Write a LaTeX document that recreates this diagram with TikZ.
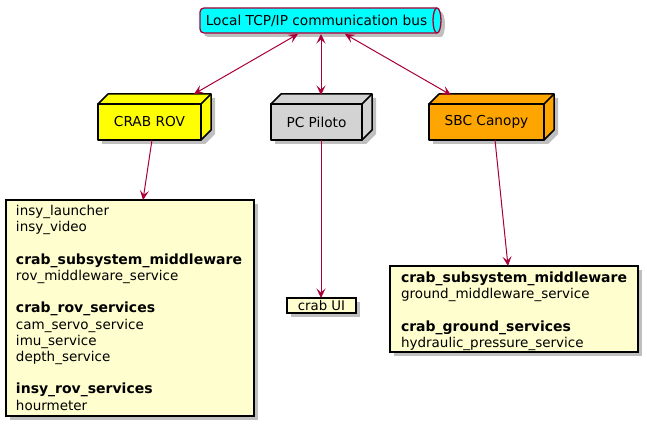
\documentclass[tikz,border=0pt]{standalone}
\usepackage{fontspec}
\setmainfont{DejaVu Sans}
\usetikzlibrary{arrows.meta,calc,backgrounds}
\definecolor{plred}{HTML}{A80036}
\definecolor{notebg}{HTML}{FEFECE}
\definecolor{busfill}{HTML}{00FFFF}
\definecolor{rovfill}{HTML}{FFFF00}
\definecolor{pcfill}{HTML}{D3D3D3}
\definecolor{sbcfill}{HTML}{FFA500}
\newcommand\threedbox[2]{%
  \begin{scope}[on background layer]
    \fill[shadowfill] ([shift={(4,4)}]#1.south west) -- ([shift={(4,4)}]#1.north west) -- ([shift={(14,-6)}]#1.north west) -- ([shift={(14,-6)}]#1.north east) -- ([shift={(14,-6)}]#1.south east) -- ([shift={(4,4)}]#1.south east) -- cycle;
  \end{scope}
  \draw[boxline, fill=#2] (#1.north west) -- ([shift={(10,-10)}]#1.north west) -- ([shift={(10,-10)}]#1.north east) -- ([shift={(10,-10)}]#1.south east) -- (#1.south east) -- (#1.north east) -- cycle;
  \draw[boxline] (#1.north east) -- ([shift={(10,-10)}]#1.north east);
}
\newcommand\noteshadow[1]{%
  \begin{scope}[on background layer]
    \fill[shadowfill] ([shift={(4,4)}]#1.south west) rectangle ([shift={(4,4)}]#1.north east);
  \end{scope}
}
\newcommand\hd[1]{{\fontsize{14}{16.2}\selectfont\bfseries #1}}
\begin{document}
\begin{tikzpicture}[x=1pt,y=-1pt,
  every node/.style={outer sep=0pt},
  shadowfill/.style={fill=black!25},
  boxline/.style={draw=black, line width=1.5pt, line join=round},
  nodebox/.style={boxline, minimum height=36pt, inner sep=0pt, font=\fontsize{13.7}{16}\selectfont},
  notebox/.style={draw=black, line width=1.2pt, fill=notebg, inner sep=0pt},
  notetext/.style={inner sep=0pt, align=left, anchor=north west, font=\fontsize{13.5}{16.2}\selectfont},
  ptip/.tip={Stealth[length=9.5pt,width=9pt,inset=4pt]},
  conn/.style={draw=plred, line width=1pt, -ptip},
  biconn/.style={draw=plred, line width=1pt, ptip-ptip},
]
\useasboundingbox (0,0) rectangle (647,427);

% communication bus (queue shape)
\begin{scope}[shift={(4,4)}]
\fill[shadowfill] (437,8) arc[start angle=-90,end angle=90,x radius=4,y radius=12.5] -- (204,33) arc[start angle=90,end angle=180,radius=4] -- (200,12) arc[start angle=180,end angle=270,radius=4] -- cycle;
\end{scope}
\draw[draw=plred, line width=1.3pt, fill=busfill] (437,8) arc[start angle=-90,end angle=90,x radius=4,y radius=12.5] -- (204,33) arc[start angle=90,end angle=180,radius=4] -- (200,12) arc[start angle=180,end angle=270,radius=4] -- cycle;
\draw[draw=plred, line width=1.3pt] (437,8) arc[start angle=270,end angle=90,x radius=4,y radius=12.5];
\node[inner sep=0pt, minimum width=237pt, minimum height=25pt, font=\fontsize{13.7}{16}\selectfont] (bus) at (316.5,20.5) {Local TCP/IP communication bus};

% 3D nodes
\node[nodebox, fill=rovfill, minimum width=103pt] (rov) at (149.5,122) {CRAB ROV};
\threedbox{rov}{rovfill}
\node[nodebox, fill=pcfill, minimum width=91pt] (pc) at (316.5,122) {PC Piloto};
\threedbox{pc}{pcfill}
\node[nodebox, fill=sbcfill, minimum width=115pt] (sbc) at (486.5,122) {SBC Canopy};
\threedbox{sbc}{sbcfill}

% notes
\node[notebox, minimum width=248pt, minimum height=216pt] (note1) at (130,308) {};
\noteshadow{note1}
\node[notetext] (note1txt) at (16,205.5) {insy\_launcher\\insy\_video\\[16.2pt]\hd{crab\_subsystem\_middleware}\\rov\_middleware\_service\\[16.2pt]\hd{crab\_rov\_services}\\cam\_servo\_service\\imu\_service\\depth\_service\\[16.2pt]\hd{insy\_rov\_services}\\hourmeter};

\node[notebox, minimum width=69pt, minimum height=15pt, font=\fontsize{13.3}{15}\selectfont] (crabui) at (321.5,305.5) {crab UI};
\noteshadow{crabui}

\node[notebox, minimum width=248pt, minimum height=86pt] (note3) at (514,309) {};
\noteshadow{note3}
\node[notetext] (note3txt) at (401,272) {\hd{crab\_subsystem\_middleware}\\ground\_middleware\_service\\[16.2pt]\hd{crab\_ground\_services}\\hydraulic\_pressure\_service};

% connectors
\draw[biconn] ($(bus.south)+(-18.5,1)$) -- ($(rov.north)+(44.5,-10)$);
\draw[biconn] ($(bus.south)+(4.5,1)$) -- ($(pc.north)+(4.5,-9)$);
\draw[biconn] ($(bus.south)+(28.5,1)$) -- ($(sbc.north)+(-35.5,-9)$);
\draw[conn] ($(rov.south)+(2.5,0)$) -- ($(note1.north)+(13,0)$);
\draw[conn] ($(pc.south)+(4.5,0)$) -- ($(crabui.north)+(-0.5,0)$);
\draw[conn] ($(sbc.south)+(8.5,0)$) -- ($(note3.north)+(-6,0)$);
\end{tikzpicture}
\end{document}
